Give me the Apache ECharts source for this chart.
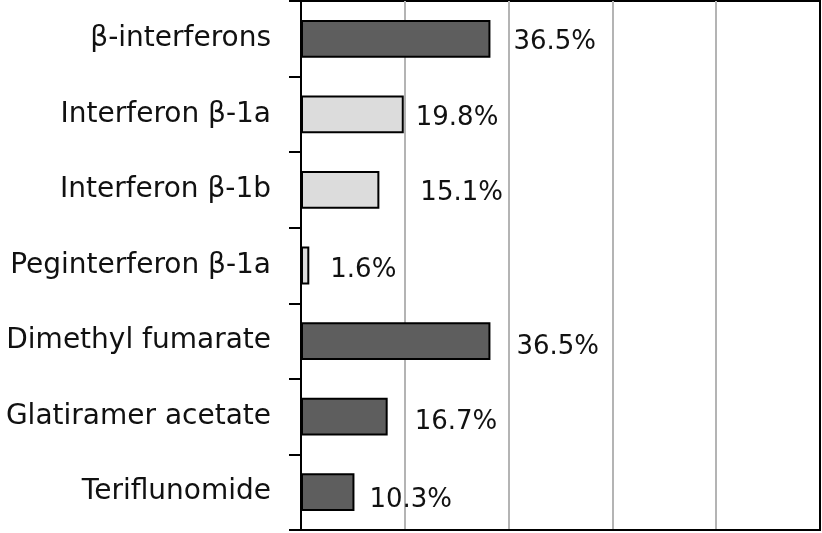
<!DOCTYPE html>
<html><head><meta charset="utf-8">
<script src="https://cdn.jsdelivr.net/npm/echarts@6/dist/echarts.min.js"></script>
<style>html,body{margin:0;padding:0;background:#fff}#c{width:822px;height:533px}</style>
</head><body><div id="c"></div>
<script>
const categories = ['β-interferons','Interferon β-1a','Interferon β-1b','Peginterferon β-1a','Dimethyl fumarate','Glatiramer acetate','Teriflunomide'];
const values = [36.5, 19.8, 15.1, 1.6, 36.5, 16.7, 10.3];
const isSubtype = [false, true, true, true, false, false, false];
const xMin = 0, xMax = 100, xStep = 20;

// label nudges (styling only)
const labelNudge = [[23,3],[12,4],[41,3],[21,5],[26,6],[27,6],[15,8]];

const FONT = '"DejaVu Sans", sans-serif';
const chart = echarts.init(document.getElementById('c'), null, {renderer:'canvas'});
chart.setOption({
  animation: false,
  grid: {left: 301, right: 2, top: 1, bottom: 3, show: true, borderColor: '#000', borderWidth: 2, containLabel: false},
  xAxis: {
    type: 'value', min: xMin, max: xMax, interval: xStep,
    axisLabel: {show: false}, axisTick: {show: false},
    axisLine: {show: true, lineStyle: {color: '#000', width: 2}},
    splitLine: {show: true, showMinLine: false, showMaxLine: false, lineStyle: {color: '#b4b4b4', width: 2}}
  },
  yAxis: {
    type: 'category', data: categories, inverse: true,
    axisLine: {show: true, lineStyle: {color: '#000', width: 2}},
    axisTick: {show: true, length: 12, lineStyle: {color: '#000', width: 2}},
    axisLabel: {margin: 30, fontFamily: FONT, fontSize: 28, color: '#111'}
  },
  series: [{
    type: 'bar', barWidth: '50%',
    data: values.map((v, i) => ({
      value: v,
      itemStyle: {color: isSubtype[i] ? '#dcdcdc' : '#5e5e5e', borderColor: '#000', borderWidth: 2},
      label: {offset: labelNudge[i]}
    })),
    label: {
      show: true, position: 'right', distance: 0,
      fontFamily: FONT, fontSize: 26, color: '#111',
      formatter: p => p.value.toFixed(1) + '%'
    }
  }]
});
</script></body></html>
